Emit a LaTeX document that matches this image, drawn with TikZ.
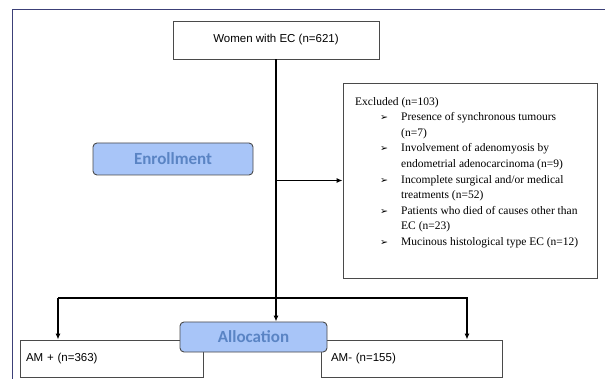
\documentclass[tikz,border=0pt]{standalone}
\usepackage{fontspec}
\setmainfont{Liberation Sans}
\newfontfamily\serifx{Liberation Serif}
\newfontfamily\calx{Carlito}
\newfontfamily\dejav{DejaVu Sans}
\usetikzlibrary{arrows.meta}
\definecolor{frameblue}{HTML}{3C4078}
\definecolor{phasefill}{HTML}{A8C5F8}
\definecolor{phasetext}{HTML}{5A84C4}
\definecolor{boxline}{HTML}{4A4A4A}
\newcommand{\bulx}{\hspace*{25pt}\makebox[21pt][l]{\dejav\fontsize{9.5}{9}\selectfont ➢}}
\newcommand{\contx}{\hspace*{46pt}}
\begin{document}
\begin{tikzpicture}[x=1pt,y=-1pt,
  box/.style={draw=boxline, line width=0.9pt, fill=white, inner sep=0pt,
    font=\fontsize{11.5}{14}\selectfont},
  phase/.style={draw=boxline, line width=0.9pt, fill=phasefill, rounded corners=4pt,
    text=phasetext, inner sep=0pt, font=\calx\bfseries\fontsize{17}{20}\selectfont},
  conn/.style={line width=1.1pt, -{Latex[length=6pt,width=5pt]}}]
\useasboundingbox (0,0) rectangle (605,379);
\fill[white] (0,0) rectangle (605,379);
\draw[frameblue, line width=1pt] (12,379) -- (12,10) -- (605,10);

\node[box, minimum width=206pt, minimum height=38pt] (women) at (276,40) {Women with EC (n=621)};
\node[box, minimum width=254pt, minimum height=195pt] (excl) at (470,180.5) {};
\node[anchor=north west, inner sep=0pt, align=left,
  font=\serifx\fontsize{11.5}{15.6}\selectfont] (excltext) at (355,97) {%
Excluded (n=103)\\
\bulx Presence of synchronous tumours\\
\contx (n=7)\\
\bulx Involvement of adenomyosis by\\
\contx endometrial adenocarcinoma (n=9)\\
\bulx Incomplete surgical and/or medical\\
\contx treatments (n=52)\\
\bulx Patients who died of causes other than\\
\contx EC (n=23)\\
\bulx Mucinous histological type EC (n=12)};

\node[phase, minimum width=160pt, minimum height=32pt] (enroll) at (173,159) {Enrollment};

\node[box, minimum height=37pt, align=left, text width=171pt, inner xsep=6pt] (amplus) at (111.5,358.5) {AM + (n=363)};
\node[box, minimum height=37pt, align=left, text width=161pt, inner xsep=10pt] (amminus) at (411.5,358.5) {AM- (n=155)};
\node[phase, minimum width=147pt, minimum height=30pt] (alloc) at (253.5,337) {Allocation};

\coordinate (lt) at (58,298);
\coordinate (rt) at (467,298);
\draw[conn] (women.south) -- (women.south |- alloc.north);
\draw[conn] (women.south |- excl.west) -- (excl.west);
\draw[conn] (lt) -- (lt |- amplus.north);
\draw[conn] (lt) -- (rt) -- (rt |- amminus.north);
\end{tikzpicture}
\end{document}
